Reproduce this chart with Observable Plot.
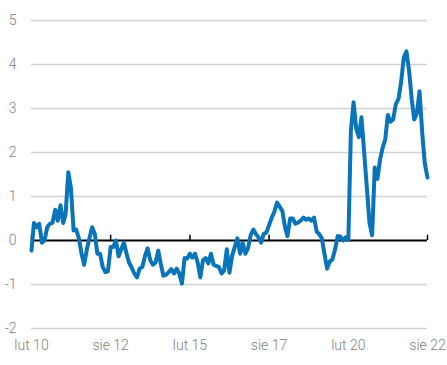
<!DOCTYPE html>
<html>
<head>
<meta charset="utf-8">
<script src="https://cdn.jsdelivr.net/npm/d3@7"></script>
<script src="https://cdn.jsdelivr.net/npm/@observablehq/plot@0.6"></script>
<style>
  html, body { margin: 0; padding: 0; background: #fff; }
  #chart svg { display: block; }
</style>
</head>
<body>
<div id="chart"></div>
<script>
// Monthly values, starting February 2010 (luty 2010) through August 2022 (sierpień 2022)
const startYear = 2010;
const startMonth = 1; // February (0-based)
const values = [
  -0.23, 0.4, 0.3, 0.38, -0.05, 0.0, 0.3, 0.38, 0.4, 0.7,
  0.45, 0.8, 0.4, 0.6, 1.55, 1.2, 0.23, 0.25, 0.05, -0.3,
  -0.55, -0.2, 0.05, 0.3, 0.15, -0.3, -0.3, -0.6, -0.72, -0.7,
  -0.15, -0.15, 0.0, -0.36, -0.2, -0.05, -0.3, -0.5, -0.62, -0.75,
  -0.84, -0.64, -0.6, -0.35, -0.18, -0.45, -0.55, -0.5, -0.23, -0.52,
  -0.8, -0.78, -0.72, -0.65, -0.75, -0.64, -0.75, -0.98, -0.4, -0.41,
  -0.3, -0.39, -0.3, -0.5, -0.84, -0.45, -0.4, -0.52, -0.3, -0.55,
  -0.58, -0.6, -0.75, -0.68, -0.2, -0.73, -0.35, -0.15, 0.05, -0.3,
  -0.05, -0.3, -0.18, 0.12, 0.25, 0.15, 0.07, -0.05, 0.15, 0.18,
  0.35, 0.52, 0.65, 0.86, 0.77, 0.67, 0.3, 0.1, 0.5, 0.5,
  0.38, 0.41, 0.45, 0.52, 0.47, 0.5, 0.45, 0.52, 0.2, 0.15,
  0.05, -0.3, -0.64, -0.48, -0.43, -0.2, 0.1, 0.09, 0.0, 0.07,
  0.02, 2.5, 3.14, 2.55, 2.35, 2.8, 2.0, 1.2, 0.4, 0.12,
  1.66, 1.4, 1.85, 2.1, 2.3, 2.85, 2.7, 2.75, 3.1, 3.22,
  3.6, 4.16, 4.3, 3.85, 3.2, 2.75, 2.9, 3.39, 2.45, 1.75,
  1.43
];
const tickDates = ["2010-02", "2012-08", "2015-02", "2017-08", "2020-02", "2022-08"];
const tickLabels = ["lut 10", "sie 12", "lut 15", "sie 17", "lut 20", "sie 22"];
const yTicks = [-2, -1, 0, 1, 2, 3, 4, 5];

const data = values.map((v, i) => ({date: new Date(Date.UTC(startYear, startMonth + i, 1)), value: v}));
const ticks = tickDates.map((s, i) => {
  const [y, m] = s.split("-").map(Number);
  return {date: new Date(Date.UTC(y, m - 1, 1)), label: tickLabels[i]};
});
const labelOf = new Map(ticks.map(t => [+t.date, t.label]));

const font = "'Roboto', 'Liberation Sans', sans-serif";

const chart = Plot.plot({
  width: 447,
  height: 365,
  marginTop: 20,
  marginBottom: 37,
  marginLeft: 31,
  marginRight: 20,
  style: {fontFamily: font, fontSize: "14px", fontWeight: 300, color: "#7f7f7f", background: "#fff"},
  x: {type: "utc", domain: [ticks[0].date, ticks[ticks.length - 1].date]},
  y: {domain: [-2, 5]},
  marks: [
    Plot.ruleY(yTicks.filter(d => d !== 0), {stroke: "#d2d2d2", strokeWidth: 1.6}),
    Plot.axisY(yTicks, {tickSize: 0, tickPadding: 15, tickFormat: d => String(d), label: null, fill: "#7f7f7f", fontSize: 14, fontWeight: 300}),
    Plot.axisX(ticks.map(t => t.date), {tickSize: 0, tickPadding: 12, tickFormat: d => labelOf.get(+d), label: null, fill: "#7f7f7f", fontSize: 14, fontWeight: 300}),
    Plot.ruleY([0], {stroke: "#000", strokeWidth: 2}),
    Plot.ruleX(ticks, {x: "date", y1: 0, y2: 0.12, stroke: "#000", strokeWidth: 1.5}),
    Plot.line(data, {x: "date", y: "value", stroke: "#0a74bb", strokeWidth: 4, strokeLinejoin: "round", strokeLinecap: "round"})
  ]
});
document.getElementById("chart").appendChild(chart);
</script>
</body>
</html>
